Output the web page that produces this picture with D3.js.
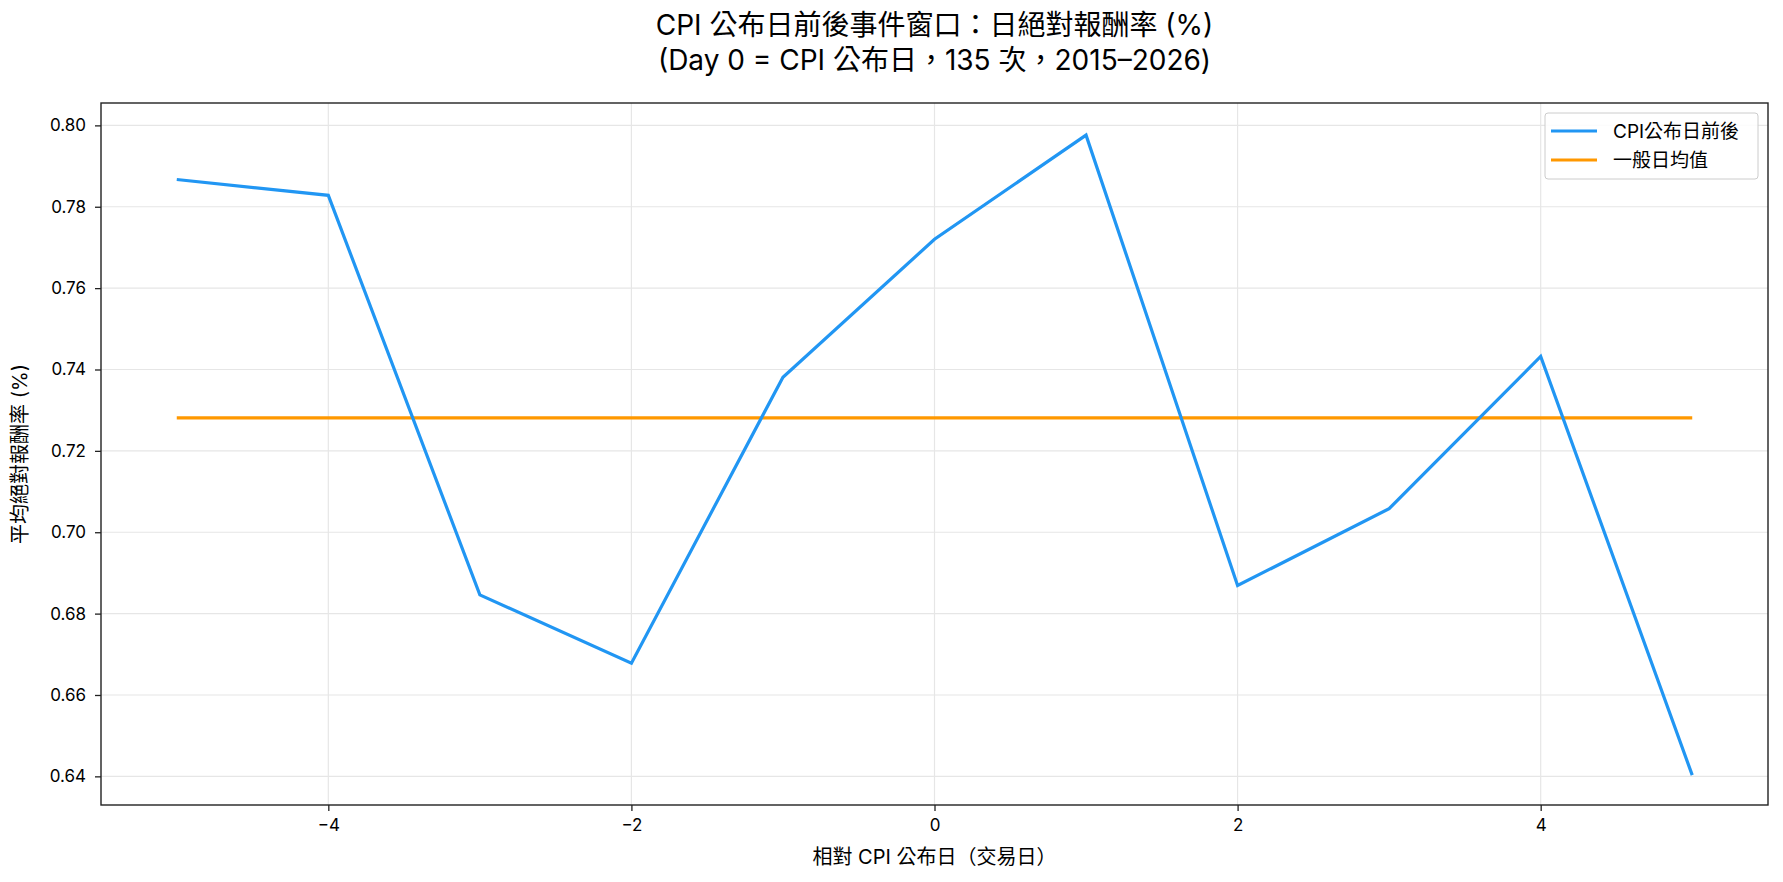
<!DOCTYPE html>
<html>
<head>
<meta charset="utf-8">
<script src="https://cdn.jsdelivr.net/npm/d3@7"></script>
<style>
  body { margin: 0; background: #fff; }
  text { font-family: Inter, "Noto Sans CJK TC", sans-serif; fill: #000; }
</style>
</head>
<body>
<div id="chart"></div>
<script>
// Data
const days = [-5, -4, -3, -2, -1, 0, 1, 2, 3, 4, 5];
const cpiValues = [0.7867, 0.7828, 0.6846, 0.6678, 0.7381, 0.7720, 0.7976, 0.6869, 0.7058, 0.7432, 0.6403];
const normalMean = 0.7281;
const yTicks = [0.64, 0.66, 0.68, 0.70, 0.72, 0.74, 0.76, 0.78, 0.80];
const xTicks = [-4, -2, 0, 2, 4];
const seriesNames = ['CPI公布日前後', '一般日均值'];
const colors = ['#2196F3', '#FF9800'];

const titleLines = ['CPI 公布日前後事件窗口：日絕對報酬率 (%)', '(Day 0 = CPI 公布日，135 次，2015–2026)'];
const xLabel = '相對 CPI 公布日（交易日）';
const yLabel = '平均絕對報酬率 (%)';

// Dimensions
const dimensions = {
    width: 1783,
    height: 882,
    left: 101,
    right: 1768,
    top: 103,
    bottom: 805
};

// Scales
const xScale = d3.scaleLinear()
    .domain([-5.5, 5.5])
    .range([dimensions.left, dimensions.right]);

const yScale = d3.scaleLinear()
    .domain([0.63296, 0.8055])
    .range([dimensions.bottom, dimensions.top]);

const svg = d3.select('#chart')
    .append('svg')
    .attr('width', dimensions.width)
    .attr('height', dimensions.height);

// Grid
svg.append('g')
    .selectAll('line')
    .data(xTicks)
    .join('line')
    .attr('x1', d => xScale(d)).attr('x2', d => xScale(d))
    .attr('y1', dimensions.top).attr('y2', dimensions.bottom)
    .attr('stroke', '#e6e6e6').attr('stroke-width', 1.2);

svg.append('g')
    .selectAll('line')
    .data(yTicks)
    .join('line')
    .attr('x1', dimensions.left).attr('x2', dimensions.right)
    .attr('y1', d => yScale(d)).attr('y2', d => yScale(d))
    .attr('stroke', '#e6e6e6').attr('stroke-width', 1.2);

// Axes
const xAxis = d3.axisBottom(xScale)
    .tickValues(xTicks)
    .tickSize(6)
    .tickPadding(8)
    .tickFormat(d => d < 0 ? '−' + Math.abs(d) : d);

const yAxis = d3.axisLeft(yScale)
    .tickValues(yTicks)
    .tickSize(6)
    .tickPadding(9)
    .tickFormat(d3.format('.2f'));

const xAxisGroup = svg.append('g')
    .attr('transform', `translate(0, ${dimensions.bottom})`)
    .call(xAxis);

const yAxisGroup = svg.append('g')
    .attr('transform', `translate(${dimensions.left}, 0)`)
    .call(yAxis);

[xAxisGroup, yAxisGroup].forEach(g => {
    g.select('.domain').remove();
    g.selectAll('.tick line').attr('stroke', '#222').attr('stroke-width', 1.3);
    g.selectAll('.tick text')
        .style('font-size', '17px')
        .style('font-family', 'Inter, "Noto Sans CJK TC", sans-serif')
        .attr('fill', '#000');
});

// Lines
const line = d3.line()
    .x((d, i) => xScale(days[i]))
    .y(d => yScale(d));

svg.append('path')
    .datum(days.map(() => normalMean))
    .attr('d', line)
    .attr('fill', 'none')
    .attr('stroke', colors[1])
    .attr('stroke-width', 3.2);

svg.append('path')
    .datum(cpiValues)
    .attr('d', line)
    .attr('fill', 'none')
    .attr('stroke', colors[0])
    .attr('stroke-width', 3.2)
    .attr('stroke-linejoin', 'miter');

// Frame
svg.append('rect')
    .attr('x', dimensions.left)
    .attr('y', dimensions.top)
    .attr('width', dimensions.right - dimensions.left)
    .attr('height', dimensions.bottom - dimensions.top)
    .attr('fill', 'none')
    .attr('stroke', '#222')
    .attr('stroke-width', 1.4);

// Title
svg.append('g')
    .selectAll('text')
    .data(titleLines)
    .join('text')
    .attr('x', (dimensions.left + dimensions.right) / 2)
    .attr('y', (d, i) => 35 + i * 35)
    .attr('text-anchor', 'middle')
    .style('font-size', '28px')
    .text(d => d);

// Axis labels
svg.append('text')
    .attr('x', (dimensions.left + dimensions.right) / 2)
    .attr('y', 864)
    .attr('text-anchor', 'middle')
    .style('font-size', '20px')
    .text(xLabel);

svg.append('text')
    .attr('transform', `translate(27, ${(dimensions.top + dimensions.bottom) / 2}) rotate(-90)`)
    .attr('text-anchor', 'middle')
    .style('font-size', '20px')
    .text(yLabel);

// Legend
const legend = svg.append('g');
legend.append('rect')
    .attr('x', 1545).attr('y', 113)
    .attr('width', 213).attr('height', 66)
    .attr('rx', 3)
    .attr('fill', '#fff')
    .attr('fill-opacity', 0.85)
    .attr('stroke', '#ccc');

const items = legend.selectAll('g.item')
    .data(seriesNames)
    .join('g')
    .attr('class', 'item')
    .attr('transform', (d, i) => `translate(1551, ${131 + i * 29})`);

items.append('line')
    .attr('x1', 0).attr('x2', 46)
    .attr('stroke', (d, i) => colors[i])
    .attr('stroke-width', 3.2);

items.append('text')
    .attr('x', 62)
    .attr('dy', '0.35em')
    .style('font-size', '19px')
    .text(d => d);
</script>
</body>
</html>
